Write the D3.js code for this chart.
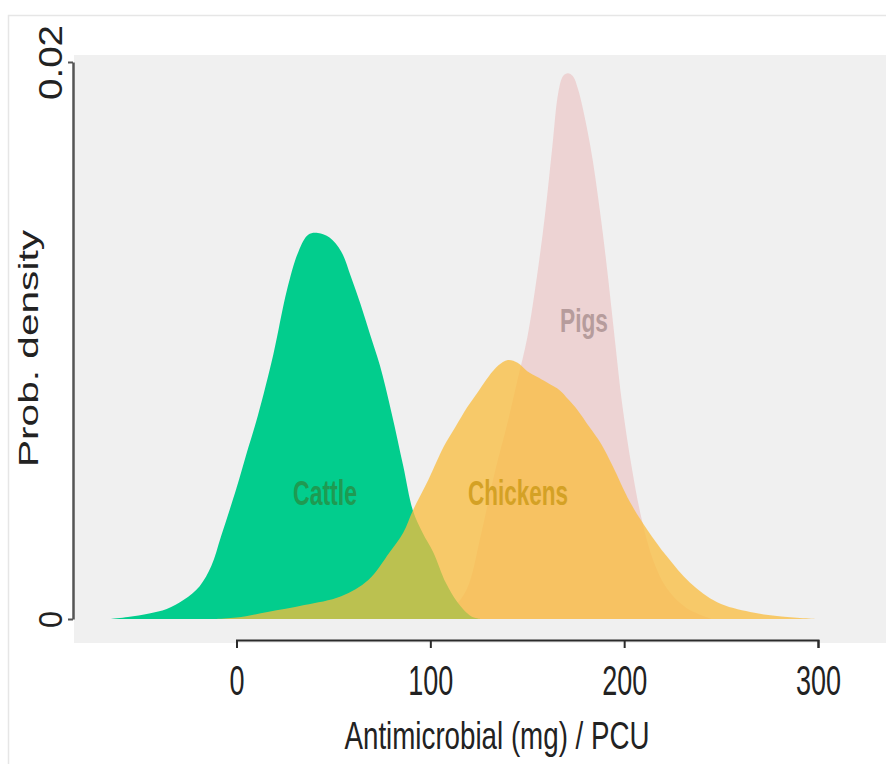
<!DOCTYPE html>
<html>
<head>
<meta charset="utf-8">
<script src="https://cdn.jsdelivr.net/npm/d3@7"></script>
<style>
  html, body { margin: 0; padding: 0; background: #ffffff; }
  svg { display: block; }
</style>
</head>
<body>
<script>
// Density estimates of antimicrobial use (mg / PCU) by species
const cattleX = [-65, -56, -45, -36, -27, -19, -13, -8, 0, 5, 11, 19, 26, 32, 37, 42, 48, 54, 59, 64, 69, 74, 80, 86, 91, 96, 101.5, 108, 114, 121, 126];
const cattleY = [0, 0.00007, 0.0002, 0.00036, 0.0007, 0.00118, 0.0019, 0.00296, 0.0047, 0.0059, 0.0073, 0.0095, 0.0118, 0.0132, 0.0138, 0.01386, 0.0137, 0.0132, 0.0123, 0.0113, 0.0102, 0.0091, 0.0074, 0.0055, 0.0039, 0.0031, 0.0024, 0.0013, 0.0006, 0.0001, 0];

const chickenX = [-10, 0, 16, 35, 54, 68, 79, 86, 91, 99, 107, 113, 119, 125, 130, 135, 140, 145, 150, 155, 160, 167, 171, 176, 182, 188, 194, 203, 212, 222, 234, 248, 265, 280, 300];
const chickenY = [0, 0.00005, 0.00025, 0.0005, 0.00082, 0.0014, 0.0024, 0.0031, 0.0039, 0.005, 0.0062, 0.0069, 0.0076, 0.0082, 0.0087, 0.0091, 0.0093, 0.0092, 0.0089, 0.0087, 0.0085, 0.0082, 0.0079, 0.0075, 0.0069, 0.0063, 0.0055, 0.0042, 0.0032, 0.00225, 0.0013, 0.0006, 0.00025, 0.0001, 0];

const pigX = [105, 112, 119, 126, 133, 140, 145, 150, 155, 159.3, 163, 166, 168.5, 171, 173.5, 176.3, 182.5, 187.6, 191.8, 195.4, 199, 204, 209, 215, 222, 232, 245];
const pigY = [0, 0.0004, 0.0011, 0.003, 0.0052, 0.0071, 0.0086, 0.0101, 0.0123, 0.0146, 0.017, 0.0189, 0.0195, 0.0196, 0.0195, 0.0190, 0.0170, 0.0146, 0.0122, 0.0099, 0.0077, 0.0054, 0.0036, 0.0021, 0.0011, 0.0004, 0];

const xTicks = [0, 100, 200, 300];
const yTicks = [0, 0.02];
const yTickLabels = ["0", "0.02"];

const W = 886, H = 764;
const svg = d3.select("body").append("svg").attr("width", W).attr("height", H);

const x = d3.scaleLinear().domain([0, 300]).range([236.5, 818]);
const y = d3.scaleLinear().domain([0, 0.02]).range([619, 62]);

// outer frame and plot panel
svg.append("rect").attr("x", 8.5).attr("y", 15.5).attr("width", 900).attr("height", 800)
  .attr("fill", "none").attr("stroke", "#e6e6e6").attr("stroke-width", 1.5);
svg.append("rect").attr("x", 74).attr("y", 55).attr("width", W - 74).attr("height", 588)
  .attr("fill", "#f0f0f0");

const area = d3.area()
  .x(d => x(d[0]))
  .y0(y(0))
  .y1(d => y(Math.max(0, d[1])))
  .curve(d3.curveCatmullRom.alpha(0.5));

const series = [
  { name: "Pigs", xs: pigX, ys: pigY, fill: "#edd3d3", opacity: 1 },
  { name: "Cattle", xs: cattleX, ys: cattleY, fill: "#02cd8d", opacity: 1 },
  { name: "Chickens", xs: chickenX, ys: chickenY, fill: "#fabc3c", opacity: 0.75 }
];

svg.append("g").selectAll("path").data(series).join("path")
  .attr("d", s => area(s.xs.map((v, i) => [v, s.ys[i]])))
  .attr("fill", s => s.fill)
  .attr("fill-opacity", s => s.opacity);

// in-plot species labels
const labels = [
  { text: "Cattle", cx: 325, base: 505, size: 35, len: 64, color: "#1f9a52" },
  { text: "Chickens", cx: 518, base: 505, size: 35, len: 100, color: "#d4a125" },
  { text: "Pigs", cx: 584, base: 332, size: 33, len: 48, color: "#b69c9c" }
];
svg.append("g").selectAll("text").data(labels).join("text")
  .attr("x", d => d.cx).attr("y", d => d.base)
  .attr("text-anchor", "middle")
  .attr("font-family", "'Liberation Sans', Arial, sans-serif")
  .attr("font-weight", "bold")
  .attr("font-size", d => d.size)
  .attr("textLength", d => d.len)
  .attr("lengthAdjust", "spacingAndGlyphs")
  .attr("fill", d => d.color)
  .text(d => d.text);

// x axis
const xAxis = svg.append("g").attr("transform", "translate(0,640)")
  .call(d3.axisBottom(x).tickValues(xTicks).tickSize(8).tickSizeOuter(8).tickFormat(d3.format("d")));
xAxis.selectAll("path, line").attr("stroke", "#2b2b2b").attr("stroke-width", 2);
xAxis.selectAll("text")
  .attr("y", 55).attr("dy", 0)
  .attr("font-family", "'Liberation Sans', Arial, sans-serif")
  .attr("font-size", 42)
  .attr("fill", "#222")
  .attr("textLength", d => d === 0 ? 15 : 45)
  .attr("lengthAdjust", "spacingAndGlyphs");

// y axis
const yAxis = svg.append("g").attr("transform", "translate(73,0)")
  .call(d3.axisLeft(y).tickValues(yTicks).tickSize(5).tickSizeOuter(0).tickFormat((d, i) => yTickLabels[i]));
yAxis.select(".domain").attr("stroke", "#555").attr("stroke-width", 2.5);
yAxis.selectAll(".tick line").attr("stroke", "#555").attr("stroke-width", 2);
yAxis.selectAll("text")
  .attr("transform", "rotate(-90)")
  .attr("x", 0).attr("y", -11).attr("dy", 0)
  .attr("text-anchor", "middle")
  .attr("font-family", "'Liberation Sans', Arial, sans-serif")
  .attr("font-size", 33)
  .attr("fill", "#222")
  .attr("textLength", d => d === 0 ? 17 : 75)
  .attr("lengthAdjust", "spacingAndGlyphs");

// axis titles
svg.append("text")
  .attr("x", 497).attr("y", 749)
  .attr("text-anchor", "middle")
  .attr("font-family", "'Liberation Sans', Arial, sans-serif")
  .attr("font-size", 39)
  .attr("fill", "#222")
  .attr("textLength", 305)
  .attr("lengthAdjust", "spacingAndGlyphs")
  .text("Antimicrobial (mg) / PCU");

svg.append("text")
  .attr("transform", "translate(38,348.5) rotate(-90)")
  .attr("text-anchor", "middle")
  .attr("font-family", "'Liberation Sans', Arial, sans-serif")
  .attr("font-size", 28)
  .attr("fill", "#222")
  .attr("textLength", 237)
  .attr("lengthAdjust", "spacingAndGlyphs")
  .text("Prob. density");
</script>
</body>
</html>
